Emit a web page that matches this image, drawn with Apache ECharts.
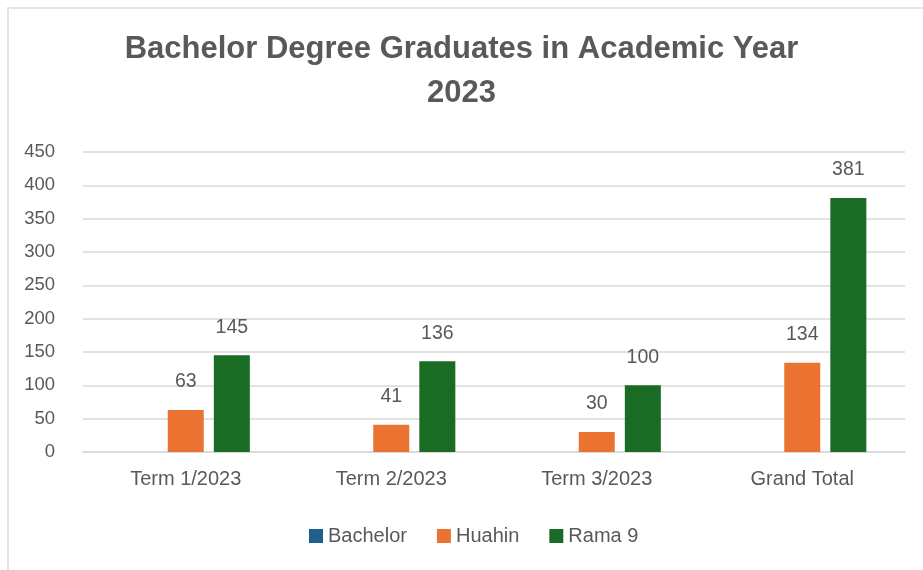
<!DOCTYPE html>
<html>
<head>
<meta charset="utf-8">
<script src="https://cdn.jsdelivr.net/npm/echarts@6/dist/echarts.min.js"></script>
<style>
  html, body { margin: 0; padding: 0; background: #fff; }
  #main { width: 923px; height: 570px; }
</style>
</head>
<body>
<div id="main"></div>
<script>
var categories = ['Term 1/2023', 'Term 2/2023', 'Term 3/2023', 'Grand Total'];
var bachelor = ['-', '-', '-', '-'];
var huahin = [63, 41, 30, 134];
var rama9 = [145, 136, 100, 381];
var yTicks = { min: 0, max: 450, step: 50 };

var font = "'Liberation Sans', Arial, sans-serif";
var grey = '#595959';

var myChart = echarts.init(document.getElementById('main'));

function barSeries(name, data, color) {
	return {
		name: name,
		type: 'bar',
		data: data,
		barWidth: 36,
		barGap: '28%',
		itemStyle: { color: color },
		label: {
			show: true,
			position: 'top',
			distance: 18,
			fontFamily: font,
			fontSize: 19.5,
			color: grey
		}
	};
}

myChart.setOption({
	animation: false,
	textStyle: { fontFamily: font },
	// frame edge of the cropped chart (top and left only)
	graphic: [{
		type: 'polyline',
		shape: { points: [[8, 570], [8, 8], [923, 8]] },
		style: { fill: null, stroke: '#e4e4e4', lineWidth: 2 },
		silent: true
	}],
	title: {
		text: 'Bachelor Degree Graduates in Academic Year\n2023',
		left: 'center',
		top: 27,
		padding: 0,
		textStyle: {
			fontFamily: font,
			fontSize: 31,
			lineHeight: 44,
			fontWeight: 'bold',
			color: grey
		}
	},
	legend: {
		left: 309,
		top: 526,
		padding: 0,
		icon: 'rect',
		itemWidth: 14,
		itemHeight: 14,
		itemGap: 30,
		textStyle: { fontFamily: font, fontSize: 20, color: grey },
		data: ['Bachelor', 'Huahin', 'Rama 9']
	},
	grid: { left: 83, right: 18, top: 152, bottom: 118, containLabel: false },
	xAxis: {
		type: 'category',
		data: categories,
		axisLine: { lineStyle: { color: '#d9d9d9', width: 1.5 } },
		axisTick: { show: false },
		axisLabel: { fontFamily: font, fontSize: 20, color: grey, margin: 17 }
	},
	yAxis: {
		type: 'value',
		min: yTicks.min,
		max: yTicks.max,
		interval: yTicks.step,
		axisLine: { show: false },
		axisTick: { show: false },
		splitLine: { lineStyle: { color: '#d9d9d9', width: 1.5 } },
		axisLabel: { fontFamily: font, fontSize: 18.5, color: grey, margin: 28 }
	},
	series: [
		barSeries('Bachelor', bachelor, '#1f5f8b'),
		barSeries('Huahin', huahin, '#ea7332'),
		barSeries('Rama 9', rama9, '#1a6b24')
	]
});
</script>
</body>
</html>
